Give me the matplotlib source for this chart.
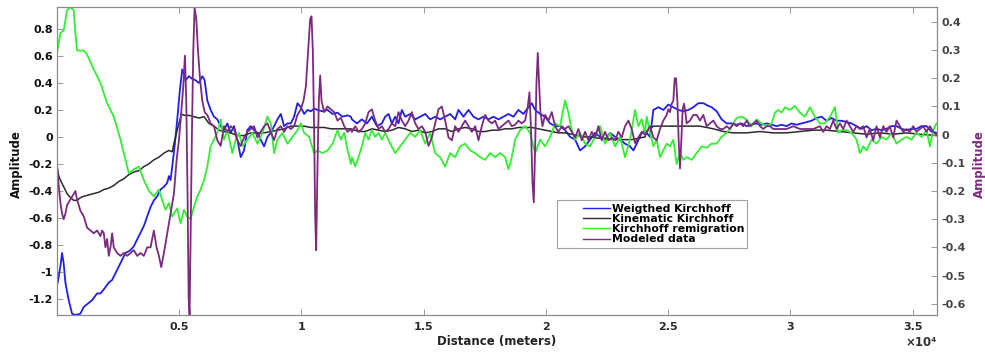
import matplotlib
matplotlib.use("Agg")
import matplotlib.pyplot as plt
from matplotlib.ticker import FixedLocator
from matplotlib.legend_handler import HandlerLine2D

plt.rcParams['font.family'] = ['DejaVu Sans']
plt.rcParams['font.weight'] = 'bold'

# ---------------- data (distance in meters, amplitudes) ----------------
weighted_x = [27, 137, 205, 273, 342, 478, 615, 751, 956, 1093, 1298, 1434, 1639, 1776, 1913, 2117, 2254, 2391,
              2527, 2664, 2801, 3005, 3142, 3279, 3415, 3552, 3689, 3825, 3962, 4098, 4235, 4372, 4508, 4577,
              4645, 4713, 4809, 4918, 5027, 5123, 5191, 5260, 5396, 5533, 5669, 5806, 5943, 6038, 6148, 6284,
              6421, 6557, 6694, 6831, 6967, 7104, 7240, 7377, 7514, 7650, 7787, 7923, 8060, 8197, 8333, 8470,
              8607, 8743, 8880, 9016, 9153, 9290, 9426, 9563, 9699, 9836, 9973, 10109, 10246, 10383, 10519,
              10656, 10861, 11066, 11270, 11475, 11680, 11885, 12022,
              12063, 12267, 12471, 12676, 12880, 13085, 13289, 13425, 13562, 13698, 13834, 13970, 14107, 14243,
              14447, 14652, 14856, 15061, 15265, 15470, 15674, 15878, 16083, 16287, 16423, 16628, 16832, 17037,
              17241, 17446, 17650, 17854, 18059, 18263, 18468, 18672, 18877, 19081, 19285, 19422, 19558, 19762,
              19967, 20171, 20376, 20580, 20784, 20989, 21193, 21397, 21602, 21806, 22011, 22215, 22420, 22624,
              22828, 23033, 23237, 23442, 23578, 23714, 23919, 24055,
              24123, 24259, 24395, 24600, 24804, 25008, 25213, 25417, 25622, 25826, 26031, 26235, 26439, 26644,
              26780, 26984, 27189, 27393, 27598, 27802, 28006, 28211, 28415, 28620, 28824, 29028, 29233, 29437,
              29642, 29846, 30050, 30255, 30459, 30664, 30868, 31072, 31277, 31481, 31686, 31890, 32095, 32299,
              32504, 32708, 32913, 33117, 33321, 33526, 33730, 33935, 34139, 34343, 34548, 34752, 34957, 35161,
              35366, 35570, 35774, 35979]
weighted_y = [-1.08, -0.96, -0.86, -0.94, -1.08, -1.21, -1.31, -1.32, -1.31, -1.26, -1.23, -1.21, -1.16, -1.16,
              -1.13, -1.08, -1.06, -1.01, -0.96, -0.91, -0.86, -0.84, -0.81, -0.76, -0.71, -0.66, -0.59, -0.52,
              -0.47, -0.44, -0.39, -0.37, -0.34, -0.29, -0.32, -0.22, -0.07, 0.13, 0.35, 0.50, 0.47, 0.42, 0.45,
              0.43, 0.42, 0.40, 0.45, 0.42, 0.27, 0.20, 0.15, 0.13, 0.08, 0.05, 0.10, 0.03, 0.08, -0.02, -0.15,
              -0.10, 0.05, 0.08, 0.05, 0.03, -0.02, -0.07, 0.00, 0.03, 0.08, 0.13, 0.17, 0.08, 0.10, 0.10, 0.15,
              0.25, 0.22, 0.17, 0.20, 0.19, 0.21, 0.20, 0.19, 0.20, 0.17, 0.18, 0.15, 0.16, 0.15,
              0.13, 0.10, 0.13, 0.10, 0.15, 0.08, 0.10, 0.15, 0.17, 0.10, 0.15, 0.10, 0.20, 0.15, 0.17, 0.13,
              0.15, 0.17, 0.13, 0.15, 0.13, 0.15, 0.17, 0.13, 0.20, 0.15, 0.20, 0.15, 0.13, 0.15, 0.13, 0.15,
              0.13, 0.15, 0.17, 0.15, 0.20, 0.17, 0.22, 0.25, 0.20, 0.17, 0.15, 0.10, 0.08, 0.08, 0.05, 0.00,
              -0.02, -0.10, -0.07, -0.02, 0.03, 0.00, -0.02, 0.03, 0.00, -0.02, -0.05, -0.07, -0.10, -0.05, 0.03,
              0.05,
              0.03, 0.00, 0.20, 0.22, 0.20, 0.24, 0.22, 0.20, 0.19, 0.20, 0.22, 0.25, 0.25, 0.23, 0.22, 0.19,
              0.13, 0.10, 0.10, 0.09, 0.10, 0.08, 0.09, 0.10, 0.09, 0.10, 0.09, 0.08, 0.09, 0.08, 0.10, 0.09,
              0.10, 0.11, 0.12, 0.14, 0.15, 0.12, 0.14, 0.12, 0.12, 0.11, 0.10, 0.08, 0.06, 0.08, 0.05, 0.06,
              0.05, 0.06, 0.08, 0.08, 0.06, 0.05, 0.06, 0.06, 0.08, 0.08, 0.04, 0.03]

kinematic_x = [0, 68, 137, 273, 410, 546, 683, 820, 956, 1093, 1298, 1503, 1708, 1913, 2117, 2322, 2527, 2732,
               2937, 3142, 3347, 3552, 3757, 3962, 4167, 4372, 4577, 4713, 4781, 4891, 4986, 5096, 5191, 5396,
               5601, 5806, 6011, 6216, 6421, 6626, 6831, 7104, 7377, 7650, 7923, 8197, 8470, 8743, 9016, 9290,
               9563, 9836, 10109, 10383, 10656, 10929, 11202, 11475, 11749, 12022,
               12335, 12608, 12880, 13153, 13425, 13698, 13970, 14243, 14516, 14788, 15061, 15333, 15606, 15878,
               16151, 16423, 16696, 16968, 17241, 17514, 17786, 18059, 18331, 18604, 18877, 19149, 19422, 19694,
               19967, 20239, 20512, 20784, 21057, 21330, 21602, 21874, 22147, 22420, 22692, 22965, 23237, 23510,
               23782, 24055, 24123, 24395, 24668, 25213, 25758, 26303, 26848, 27257, 27666, 28211, 28756, 29301,
               29846, 30391, 30936, 31481, 32027, 32572, 33117, 33662, 34207, 34752, 35297, 35979]
kinematic_y = [-0.22, -0.29, -0.32, -0.37, -0.42, -0.45, -0.47, -0.47, -0.45, -0.44, -0.43, -0.42, -0.41, -0.39,
               -0.38, -0.36, -0.33, -0.31, -0.28, -0.26, -0.25, -0.22, -0.20, -0.17, -0.15, -0.12, -0.10, -0.11,
               -0.05, 0.03, 0.10, 0.17, 0.16, 0.16, 0.15, 0.14, 0.15, 0.10, 0.08, 0.05, 0.04, 0.03, 0.01, 0.01,
               0.03, 0.03, 0.03, 0.04, 0.05, 0.06, 0.08, 0.08, 0.08, 0.07, 0.07, 0.07, 0.06, 0.06, 0.06, 0.06,
               0.04, 0.04, 0.06, 0.05, 0.04, 0.05, 0.07, 0.06, 0.04, 0.05, 0.03, 0.04, 0.06, 0.06, 0.04, 0.06,
               0.07, 0.06, 0.04, 0.04, 0.05, 0.05, 0.06, 0.06, 0.07, 0.07, 0.07, 0.06, 0.05, 0.04, 0.03, 0.03,
               0.02, 0.01, 0.00, 0.00, -0.01, -0.01, -0.02, -0.02, -0.02, -0.02, -0.01, 0.00, 0.04, 0.08, 0.08,
               0.08, 0.08, 0.08, 0.06, 0.04, 0.03, 0.03, 0.04, 0.03, 0.03, 0.04, 0.05, 0.05, 0.04, 0.03, 0.02,
               0.03, 0.02, 0.03, 0.02, 0.01]

remig_x = [0, 137, 273, 410, 546, 683, 751, 820, 956, 1093, 1230, 1503, 1776, 2049, 2322, 2596, 2732, 2937, 3142,
           3347, 3552, 3757, 3962, 4167, 4303, 4440, 4577, 4713, 4918, 5055, 5191, 5328, 5464, 5601, 5738, 5874,
           6011, 6148, 6284, 6421, 6557, 6694, 6831, 6967, 7172, 7309, 7445, 7582, 7787, 7992, 8197, 8402, 8607,
           8743, 8880, 9016, 9221, 9426, 9631, 9836, 9973, 10109, 10314, 10519, 10656, 10861, 11066, 11270,
           11475, 11612, 11749, 11885, 12022,
           12063, 12199, 12335, 12471, 12608, 12744, 12880, 13016, 13153, 13289, 13425, 13630, 13834, 14039,
           14243, 14447, 14652, 14856, 15061, 15265, 15470, 15674, 15878, 16083, 16287, 16492, 16696, 16900,
           17105, 17309, 17514, 17718, 17922, 18127, 18331, 18468, 18604, 18740, 18944, 19149, 19353, 19558,
           19762, 19967, 20171, 20376, 20580, 20784, 20921, 21057, 21193, 21397, 21602, 21806, 22011, 22215,
           22420, 22624, 22828, 23033, 23237, 23442, 23646, 23782, 23919, 24055,
           24123, 24259, 24395, 24531, 24668, 24804, 24940, 25077, 25213, 25349, 25485, 25622, 25758, 25962,
           26167, 26371, 26576, 26780, 26984, 27189, 27393, 27598, 27802, 28006, 28211, 28415, 28620, 28824,
           29028, 29233, 29369, 29506, 29642, 29778, 29983, 30187, 30391, 30596, 30800, 31005, 31209, 31413,
           31618, 31822, 31958, 32095, 32299, 32504, 32708, 32844, 32981, 33117, 33321, 33526, 33730, 33935,
           34139, 34343, 34548, 34752, 34957, 35161, 35366, 35570, 35706, 35843, 35979]
remig_y = [0.62, 0.77, 0.79, 0.94, 0.96, 0.94, 0.77, 0.64, 0.64, 0.64, 0.61, 0.50, 0.40, 0.25, 0.15, -0.02, -0.12,
           -0.27, -0.24, -0.22, -0.32, -0.40, -0.44, -0.39, -0.47, -0.54, -0.49, -0.59, -0.53, -0.64, -0.54,
           -0.59, -0.61, -0.52, -0.44, -0.39, -0.32, -0.22, -0.07, -0.02, 0.03, 0.13, -0.02, 0.05, -0.12, -0.02,
           0.03, -0.07, -0.02, 0.03, -0.05, 0.03, 0.15, 0.10, -0.12, -0.02, 0.03, -0.05, 0.00, 0.05, 0.10, 0.03,
           0.00, -0.12, -0.10, -0.12, -0.10, -0.05, 0.05, -0.02, 0.03, -0.10, -0.20,
           -0.15, -0.22, -0.15, -0.07, 0.03, -0.02, 0.05, 0.00, 0.03, -0.02, 0.03, -0.05, -0.12, -0.07, -0.02,
           0.03, 0.00, 0.05, -0.05, 0.03, -0.12, -0.15, -0.22, -0.12, -0.15, -0.07, -0.05, -0.10, -0.12, -0.15,
           -0.17, -0.12, -0.15, -0.12, -0.15, -0.24, -0.15, -0.02, 0.05, 0.08, 0.03, -0.12, -0.02, -0.07, 0.00,
           0.10, 0.08, 0.27, 0.18, 0.05, -0.02, 0.03, -0.05, -0.07, 0.00, 0.08, -0.05, 0.03, -0.07, 0.00, -0.15,
           -0.02, 0.20, 0.08, 0.13, 0.03,
           0.15, 0.03, -0.07, -0.02, -0.15, -0.10, -0.05, -0.07, -0.02, -0.20, -0.12, -0.17, -0.15, -0.17, -0.12,
           -0.07, -0.08, -0.05, -0.05, 0.00, 0.03, 0.08, 0.14, 0.15, 0.13, 0.08, 0.13, 0.10, 0.08, 0.10, 0.18,
           0.20, 0.18, 0.22, 0.20, 0.23, 0.18, 0.15, 0.22, 0.15, 0.10, 0.10, 0.15, 0.22, 0.03, 0.05, 0.05, 0.03,
           -0.02, -0.12, -0.07, -0.10, -0.02, -0.05, 0.00, -0.02, 0.03, -0.05, -0.02, 0.00, -0.02, 0.03, 0.00,
           0.05, -0.07, 0.05, 0.10]

modeled_x = [0, 68, 137, 205, 273, 342, 410, 546, 683, 751, 820, 956, 1093, 1230, 1366, 1503, 1639, 1776, 1844,
             1913, 1981, 2049, 2117, 2186, 2254, 2322, 2459, 2596, 2732, 2869, 3005, 3142, 3279, 3415, 3552, 3689,
             3825, 3962, 4071, 4167, 4262, 4372, 4508, 4645, 4781, 4891, 4986, 5055, 5164, 5232, 5287, 5342,
             5383, 5423, 5464, 5519, 5574, 5628, 5697, 5765, 5847, 5943, 6038, 6148, 6284, 6421, 6557, 6694,
             6831, 6967, 7104, 7240, 7377, 7514, 7650, 7787, 7923, 8060, 8197, 8333, 8470, 8607, 8743, 8880,
             9016, 9153, 9290, 9426, 9563, 9699, 9836, 9973, 10082, 10178, 10273, 10355, 10410, 10464, 10519,
             10560, 10601, 10656, 10710, 10765, 10820, 10929, 11066, 11202, 11339, 11475, 11612, 11749, 11885,
             12022,
             12063, 12199, 12335, 12471, 12608, 12744, 12880, 13016, 13153, 13289, 13425, 13562, 13698, 13834,
             13970, 14107, 14243, 14380, 14516, 14652, 14788, 14925, 15061, 15198, 15333, 15470, 15606, 15742,
             15878, 16015, 16151, 16287, 16423, 16560, 16696, 16832, 16968, 17105, 17241, 17377, 17514, 17650,
             17786, 17922, 18059, 18195, 18331, 18468, 18604, 18740, 18877, 19013, 19149, 19258, 19326, 19394,
             19449, 19503, 19558, 19612, 19667, 19721, 19776, 19858, 19967, 20103, 20239, 20376, 20512, 20648,
             20784, 20921, 21057, 21193, 21330, 21466, 21602, 21738, 21874, 22011, 22147, 22283, 22420, 22556,
             22692, 22828, 22965, 23101, 23237, 23374, 23510, 23646, 23782, 23919, 24055,
             24123, 24259, 24395, 24531, 24668, 24804, 24940, 25008, 25077, 25145, 25213, 25267, 25322, 25377,
             25431, 25485, 25540, 25594, 25649, 25703, 25758, 25894, 26031, 26167, 26303, 26439, 26576, 26712,
             26848, 26984, 27121, 27257, 27393, 27529, 27666, 27802, 27938, 28074, 28211, 28347, 28483, 28620,
             28756, 28892, 29028, 29165, 29301, 29574, 29846, 30119, 30391, 30664, 30936, 31209, 31345, 31481,
             31618, 31754, 31890, 32027, 32163, 32299, 32436, 32572, 32708, 32844, 32981, 33117, 33253, 33389,
             33526, 33662, 33798, 33935, 34071, 34207, 34343, 34479, 34616, 34752, 34888, 35025, 35161, 35297,
             35434, 35570, 35706, 35843, 35979]
modeled_y = [-0.11, -0.18, -0.24, -0.28, -0.30, -0.28, -0.25, -0.23, -0.21, -0.20, -0.23, -0.27, -0.29, -0.33,
             -0.34, -0.35, -0.34, -0.36, -0.34, -0.35, -0.40, -0.37, -0.43, -0.40, -0.35, -0.40, -0.42, -0.43,
             -0.42, -0.43, -0.42, -0.41, -0.43, -0.42, -0.43, -0.40, -0.40, -0.34, -0.40, -0.43, -0.47, -0.42,
             -0.35, -0.28, -0.21, -0.09, -0.02, 0.05, 0.17, 0.28, 0.12, -0.23, -0.58, -0.64, -0.35, 0.01, 0.30,
             0.45, 0.41, 0.30, 0.20, 0.12, 0.08, 0.07, 0.04, 0.03, -0.02, -0.04, 0.03, 0.01, 0.03, 0.02, -0.02,
             -0.04, -0.01, 0.01, 0.02, 0.03, -0.01, 0.01, 0.03, 0.04, 0.01, -0.02, 0.02, 0.03, 0.01, 0.03, 0.02,
             0.03, 0.07, 0.09, 0.12, 0.17, 0.30, 0.41, 0.42, 0.30, 0.01, -0.29, -0.41, -0.11, 0.12, 0.21, 0.12,
             0.08, 0.10, 0.09, 0.08, 0.05, 0.06, 0.03, 0.01, 0.02,
             0.01, 0.03, 0.01, 0.02, 0.04, 0.08, 0.09, 0.05, 0.02, 0.03, 0.01, 0.02, 0.04, 0.03, 0.08, 0.05,
             0.03, 0.05, 0.08, 0.04, 0.02, 0.03, 0.01, -0.04, -0.01, 0.04, 0.09, 0.10, 0.05, -0.01, -0.02, 0.03,
             0.01, 0.03, 0.05, 0.03, 0.01, 0.03, -0.02, 0.03, 0.07, 0.05, 0.04, 0.05, 0.02, 0.03, 0.04, 0.05,
             0.03, 0.035, 0.05, 0.04, 0.05, 0.10, 0.15, 0.01, -0.17, -0.24, -0.05, 0.18, 0.29, 0.18, 0.08, 0.03,
             0.07, 0.05, 0.08, 0.03, 0.01, 0.03, 0.02, 0.03, 0.01, -0.01, 0.02, -0.02, 0.01, -0.02, 0.01, -0.01,
             0.03, -0.02, 0.01, -0.02, -0.01, -0.02, 0.01, -0.01, 0.03, 0.05, 0.02, -0.03, -0.01, 0.01, 0.00,
             0.01, 0.03, -0.01, -0.02, 0.02, 0.05, 0.07, 0.09, 0.08, 0.11, 0.12, 0.20, 0.20, 0.12, -0.02, -0.12,
             -0.02, 0.09, 0.11, 0.08, 0.04, 0.05, 0.07, 0.07, 0.05, 0.07, 0.03, 0.04, 0.05, 0.03, 0.02, 0.02,
             0.03, 0.02, 0.04, 0.03, 0.04, 0.03, 0.05, 0.03, 0.04, 0.05, 0.03, 0.02, 0.03, 0.03, 0.02, 0.02,
             0.02, 0.03, 0.02, 0.02, 0.02, 0.03, 0.01, 0.03, 0.02, 0.05, 0.02, 0.04, 0.02, 0.05, 0.03, 0.01,
             0.03, 0.02, 0.03, -0.01, 0.02, -0.02, 0.03, -0.01, 0.03, 0.01, 0.03, -0.01, 0.05, 0.03, 0.01, 0.02,
             0.01, 0.03, 0.01, 0.02, 0.03, 0.01, 0.03, 0.01, 0.00]

series_labels = ["Weigthed Kirchhoff", "Kinematic Kirchhoff", "Kirchhoff remigration", "Modeled data"]
x_ticks = [5000, 10000, 15000, 20000, 25000, 30000, 35000]
x_tick_labels = ["0.5", "1", "1.5", "2", "2.5", "3", "3.5"]
left_ticks = [-1.2, -1.0, -0.8, -0.6, -0.4, -0.2, 0.0, 0.2, 0.4, 0.6, 0.8]
left_tick_labels = ["-1.2", "-1", "-0.8", "-0.6", "-0.4", "-0.2", "0", "0.2", "0.4", "0.6", "0.8"]
right_ticks = [-0.6, -0.5, -0.4, -0.3, -0.2, -0.1, 0.0, 0.1, 0.2, 0.3, 0.4]
right_tick_labels = ["-0.6", "-0.5", "-0.4", "-0.3", "-0.2", "-0.1", "0", "0.1", "0.2", "0.3", "0.4"]


class RightPartLine(HandlerLine2D):
    """Legend handle that draws the line only over the right part of the handle box."""
    frac = 0.55

    def create_artists(self, legend, orig_handle, xdescent, ydescent, width, height, fontsize, trans):
        w = width * self.frac
        return super().create_artists(legend, orig_handle, xdescent - (width - w), ydescent,
                                      w, height, fontsize, trans)


# ---------------- figure ----------------
c_blue = "#1f1fe8"
c_black = "#2b2b2b"
c_green = "#33ee33"
c_purple = "#7b2a7e"
spine_c = "#8a8a8a"
tick_txt = "#2a2a2a"

fig = plt.figure(figsize=(9.85, 3.53), dpi=100)
ax = fig.add_axes([0.0579, 0.1076, 0.8934, 0.8726])
ax2 = ax.twinx()

l1, = ax.plot(weighted_x, weighted_y, color=c_blue, lw=1.3)
l2, = ax.plot(kinematic_x, kinematic_y, color=c_black, lw=1.1)
l3, = ax.plot(remig_x, remig_y, color=c_green, lw=1.3)
l4, = ax2.plot(modeled_x, modeled_y, color=c_purple, lw=1.3)

ax.set_xlim(0, 36000)
ax.set_ylim(-1.32, 0.963)
ax2.set_ylim(-0.64, 0.453)

ax.xaxis.set_major_locator(FixedLocator(x_ticks))
ax.set_xticklabels(x_tick_labels)
ax.set_yticks(left_ticks)
ax.set_yticklabels(left_tick_labels)
ax2.set_yticks(right_ticks)
ax2.set_yticklabels(right_tick_labels)

for a in (ax, ax2):
    for s in a.spines.values():
        s.set_color(spine_c)
        s.set_linewidth(0.8)

ax.tick_params(axis='x', direction='in', length=4, width=0.6, color=spine_c, top=True,
               labelsize=8, labelcolor=tick_txt, pad=5)
ax.tick_params(axis='y', direction='in', length=4, width=0.6, color=spine_c,
               labelsize=8, labelcolor='#111111', pad=3)
ax2.tick_params(axis='y', direction='in', length=4, width=0.6, color=spine_c,
                labelsize=8, labelcolor='#444444', pad=3)
for lab in ax.get_xticklabels() + ax.get_yticklabels() + ax2.get_yticklabels():
    lab.set_fontweight('bold')

ax.set_xlabel("Distance (meters)", fontsize=8.5, fontweight='bold', color='#222222', labelpad=2)
ax.set_ylabel("Amplitude", fontsize=8.5, fontweight='bold', color='#111111')
ax2.set_ylabel("Amplitude", fontsize=8.5, fontweight='bold', color=c_purple)
ax.yaxis.set_label_coords(-0.0386, 0.49, transform=ax.transAxes)
ax2.yaxis.set_label_coords(1.041, 0.49, transform=ax2.transAxes)

fig.text(0.935, 0.031, "\u00d710\u2074", fontsize=8.5, fontweight='bold', color='#333333',
         ha='center', va='center')

leg = ax2.legend([l1, l2, l3, l4], series_labels, loc='upper left',
                 bbox_to_anchor=(0.568, 0.372), fontsize=7.8, frameon=True, fancybox=False,
                 handlelength=4.6, handletextpad=0.15, labelspacing=0.02, borderpad=0.3,
                 borderaxespad=0.0, handler_map={matplotlib.lines.Line2D: RightPartLine()})
leg.get_frame().set_edgecolor('#8a8a8a')
leg.get_frame().set_linewidth(0.8)
for t in leg.get_texts():
    t.set_fontweight('bold')
for h in leg.get_lines():
    h.set_linewidth(1.0)

fig.savefig("out.png", dpi=100)
